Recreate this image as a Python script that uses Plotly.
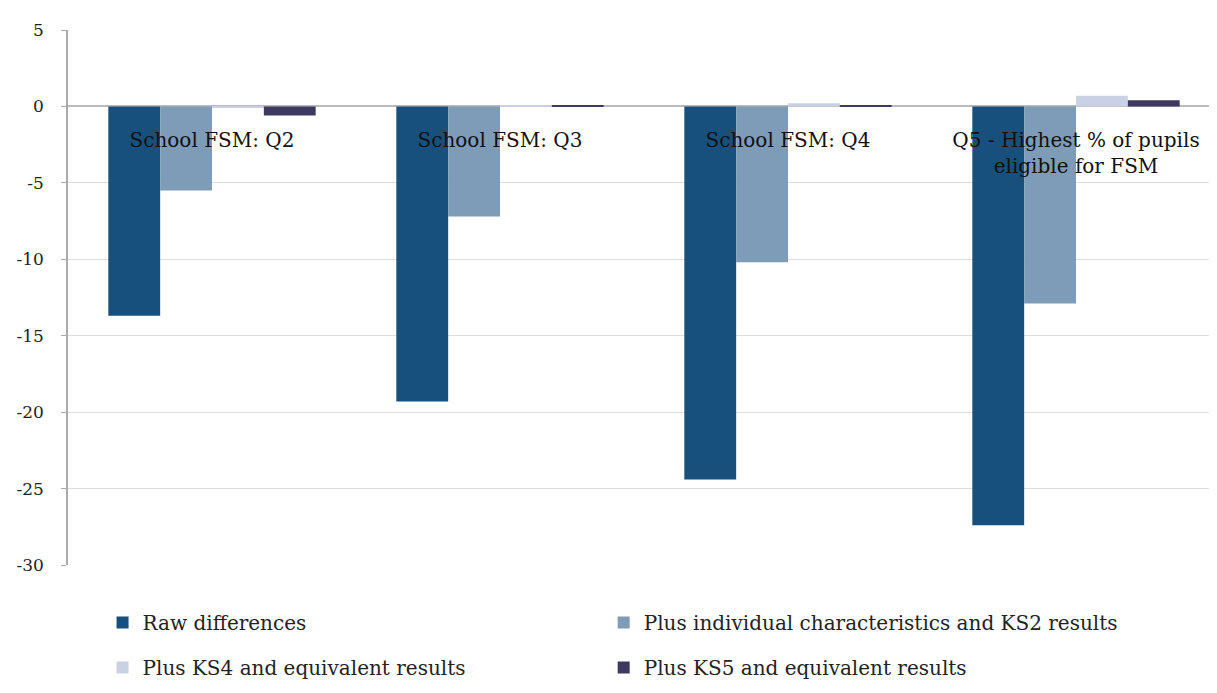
import plotly.graph_objects as go

categories = ["School FSM: Q2", "School FSM: Q3", "School FSM: Q4",
              "Q5 - Highest % of pupils<br>eligible for FSM"]
series_names = ["Raw differences",
                "Plus individual characteristics and KS2 results",
                "Plus KS4 and equivalent results",
                "Plus KS5 and equivalent results"]
raw = [-13.7, -19.3, -24.4, -27.4]
indiv = [-5.5, -7.2, -10.2, -12.9]
ks4 = [-0.1, 0.1, 0.2, 0.7]
ks5 = [-0.6, 0.05, 0.1, 0.4]
y_ticks = [5, 0, -5, -10, -15, -20, -25, -30]

colors = ["#17507C", "#7E9CB8", "#CBD1E4", "#3D3A62"]
legends = ["legend", "legend2", "legend", "legend2"]

FONT = "DejaVu Serif"

fig = go.Figure()
for i, (name, vals, c) in enumerate(zip(series_names, [raw, indiv, ks4, ks5], colors)):
    fig.add_trace(go.Bar(x=categories, y=vals, name=name, marker_color=c,
                         marker_line_width=0, legend=legends[i],
                         legendgroup=f"g{i}"))

leg_common = dict(orientation="v", yanchor="top", y=-0.071,
                  xanchor="left", tracegroupgap=16,
                  font=dict(size=20, family=FONT, color="#222222"),
                  bgcolor="rgba(0,0,0,0)", itemwidth=30)

fig.update_layout(
    width=1217, height=693,
    margin=dict(l=60, r=5, t=22, b=136),
    plot_bgcolor="white", paper_bgcolor="white",
    barmode="group", bargap=0.28, bargroupgap=0,
    font=dict(family=FONT, size=16, color="#222222"),
    legend=dict(x=0.03, **leg_common),
    legend2=dict(x=0.465, **leg_common),
    showlegend=True,
)
fig.update_yaxes(range=[-30, 5], tickvals=y_ticks, ticktext=[str(v) for v in y_ticks],
                 automargin=False,
                 showgrid=True, gridcolor="#DDDDDD", zeroline=True, zerolinecolor="#BBBBBB",
                 zerolinewidth=1.5, showline=True, linecolor="#AAAAAA", linewidth=1.5,
                 ticks="outside", ticklen=5, tickcolor="#AAAAAA",
                 tickfont=dict(size=17, color="#222222"), ticklabelstandoff=14)
fig.update_xaxes(anchor="free", position=30/35, showline=False, ticks="", automargin=False,
                 tickfont=dict(size=20, color="#111111"), showgrid=False,
                 ticklabelstandoff=20)

fig.write_html("out.html")
